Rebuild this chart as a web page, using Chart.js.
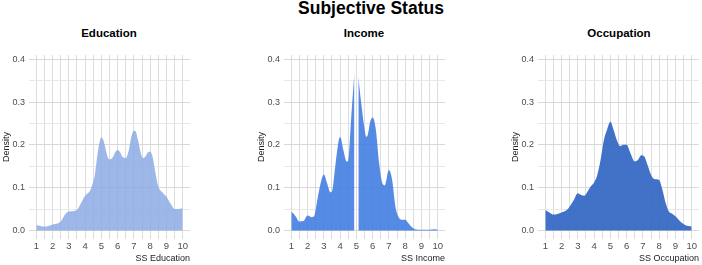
<!DOCTYPE html>
<html>
<head>
<meta charset="utf-8">
<script src="https://cdn.jsdelivr.net/npm/chart.js@4/dist/chart.umd.min.js"></script>
<style>
  body { margin: 0; background: #fff; }
  #wrap { position: relative; width: 702px; height: 265px; font-family: "Liberation Sans", Arial, sans-serif; }
  #wrap canvas { position: absolute; top: 0; }
  .ttl { position: absolute; font-weight: bold; color: #000; white-space: nowrap; transform: translateX(-50%); }
  #main { left: 371px; top: -1px; font-size: 17.5px; line-height: 18px; }
  .sub { top: 27px; font-size: 11.5px; line-height: 13px; }
</style>
</head>
<body>
<div id="wrap">
  <div id="main" class="ttl">Subjective Status</div>
  <div class="ttl sub" style="left:109px">Education</div>
  <div class="ttl sub" style="left:364px">Income</div>
  <div class="ttl sub" style="left:619px">Occupation</div>
  <canvas id="c1" width="192" height="265" style="left:0px"></canvas>
  <canvas id="c2" width="192" height="265" style="left:255px"></canvas>
  <canvas id="c3" width="192" height="265" style="left:509px"></canvas>
</div>
<script>
// density estimates (x = status rung, y = density)
const eduX = [1, 1.5, 2, 2.5, 2.8, 3, 3.5, 3.75, 4, 4.3, 4.45, 4.6, 4.7, 4.8, 4.9, 5, 5.1, 5.2, 5.35, 5.5, 5.7, 5.85, 6, 6.15, 6.3, 6.5, 6.7, 6.85, 7, 7.1, 7.25, 7.4, 7.55, 7.7, 7.85, 8, 8.15, 8.3, 8.5, 8.8, 9, 9.3, 9.5, 9.7, 10];
const eduY = [0.013, 0.009, 0.014, 0.021, 0.039, 0.044, 0.048, 0.064, 0.081, 0.093, 0.108, 0.13, 0.16, 0.188, 0.208, 0.217, 0.213, 0.2, 0.176, 0.166, 0.171, 0.183, 0.188, 0.183, 0.172, 0.169, 0.19, 0.22, 0.233, 0.232, 0.212, 0.185, 0.169, 0.172, 0.182, 0.184, 0.172, 0.14, 0.103, 0.087, 0.079, 0.060, 0.050, 0.050, 0.052];

const incX = [1, 1.25, 1.5, 1.75, 2, 2.25, 2.4, 2.6, 2.8, 3, 3.2, 3.4, 3.5, 3.7, 3.9, 4, 4.2, 4.4, 4.5, 4.7, 4.88, 5, 5.12, 5.3, 5.5, 5.6, 5.7, 5.85, 6, 6.2, 6.4, 6.6, 6.75, 7, 7.2, 7.4, 7.6, 7.8, 8, 8.2, 8.4, 8.6, 9, 9.5, 9.8, 10];
const incY = [0.044, 0.034, 0.021, 0.022, 0.035, 0.031, 0.033, 0.071, 0.110, 0.131, 0.110, 0.089, 0.091, 0.149, 0.207, 0.219, 0.188, 0.161, 0.163, 0.273, 0.37, null, 0.36, 0.297, 0.238, 0.219, 0.223, 0.254, 0.264, 0.235, 0.157, 0.110, 0.105, 0.141, 0.118, 0.056, 0.031, 0.025, 0.025, 0.017, 0.008, 0.003, 0.0015, 0.0015, 0.003, 0.002];

const occX = [1, 1.25, 1.5, 2, 2.3, 2.5, 2.75, 3, 3.2, 3.4, 3.6, 3.8, 4, 4.2, 4.4, 4.6, 4.8, 5, 5.2, 5.4, 5.6, 5.8, 6, 6.2, 6.5, 6.7, 6.9, 7.1, 7.3, 7.5, 7.7, 8, 8.2, 8.4, 8.6, 8.8, 9, 9.3, 9.6, 10];
const occY = [0.048, 0.042, 0.037, 0.042, 0.047, 0.056, 0.071, 0.087, 0.083, 0.081, 0.091, 0.103, 0.112, 0.130, 0.165, 0.211, 0.236, 0.254, 0.235, 0.211, 0.197, 0.200, 0.200, 0.184, 0.161, 0.165, 0.176, 0.172, 0.151, 0.130, 0.120, 0.118, 0.095, 0.064, 0.044, 0.039, 0.033, 0.021, 0.013, 0.009];

const xTicks = [1, 1.5, 2, 2.5, 3, 3.5, 4, 4.5, 5, 5.5, 6, 6.5, 7, 7.5, 8, 8.5, 9, 9.5, 10];
const yTicks = [0, 0.05, 0.1, 0.15, 0.2, 0.25, 0.3, 0.35, 0.4];

const panels = [
  { id: 'c1', xs: eduX, ys: eduY, title: 'SS Education', color: 'rgba(140,172,228,0.85)' },
  { id: 'c2', xs: incX, ys: incY, title: 'SS Income', color: 'rgba(66,125,226,0.9)' },
  { id: 'c3', xs: occX, ys: occY, title: 'SS Occupation', color: 'rgba(50,102,194,0.92)' }
];

const isMajor = v => Math.abs(v * 10 - Math.round(v * 10)) < 1e-6;
const FONT = "'Liberation Sans', Arial, sans-serif";

function makeChart(p){
  const pts = p.xs.map((x, i) => ({ x, y: p.ys[i] }));
  new Chart(document.getElementById(p.id), {
    type: 'line',
    data: { datasets: [{ data: pts, fill: 'origin', backgroundColor: p.color, borderColor: p.color,
      borderWidth: 0, pointRadius: 0, cubicInterpolationMode: 'monotone', spanGaps: false }] },
    options: {
      responsive: false, animation: false, devicePixelRatio: 1,
      layout: { padding: { top: 55, right: 2, left: 0, bottom: 0 } },
      plugins: { legend: { display: false }, tooltip: { enabled: false } },
      scales: {
        x: {
          type: 'linear', min: 0.55, max: 10.45,
          afterBuildTicks: s => { s.ticks = xTicks.map(v => ({ value: v })); },
          afterFit: s => { s.height = 26; },
          border: { display: false },
          grid: { color: '#dcdcdc', drawTicks: false },
          ticks: { padding: 2, color: '#4d4d4d', font: { family: FONT, size: 9.5 }, maxRotation: 0, autoSkip: false,
            callback: v => Number.isInteger(v) ? String(v) : '' },
          title: { display: true, text: p.title, align: 'end', color: '#222', font: { family: FONT, size: 9 }, padding: { top: 0, bottom: 1 } }
        },
        y: {
          type: 'linear', min: -0.02, max: 0.41,
          afterBuildTicks: s => { s.ticks = yTicks.map(v => ({ value: v })); },
          afterFit: s => { s.width = 29; },
          border: { display: false },
          grid: { color: c => isMajor(c.tick.value) ? '#d8d8d8' : '#e8e8e8', drawTicks: false },
          ticks: { padding: 4, color: '#4d4d4d', font: { family: FONT, size: 9 },
            callback: v => isMajor(v) ? v.toFixed(1) : '' },
          title: { display: true, text: 'Density', color: '#222', font: { family: FONT, size: 9 }, padding: { top: 1, bottom: 0 } }
        }
      }
    }
  });
}

panels.forEach(makeChart);
</script>
</body>
</html>
